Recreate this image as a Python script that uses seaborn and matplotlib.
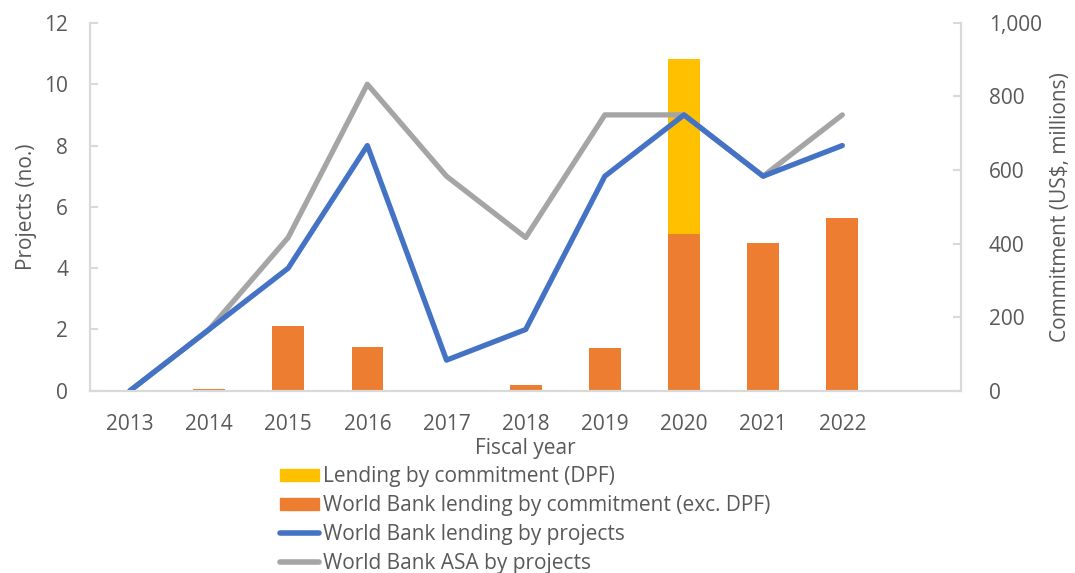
import matplotlib
matplotlib.use('Agg')
import matplotlib.pyplot as plt
import seaborn as sns
import pandas as pd
from matplotlib.patches import Patch
from matplotlib.lines import Line2D

years = ['2013', '2014', '2015', '2016', '2017', '2018', '2019', '2020', '2021', '2022']
lending_projects = [0, 2, 4, 8, 1, 2, 7, 9, 7, 8]
asa_projects = [0, 2, 5, 10, 7, 5, 9, 9, 7, 9]
commit_exc_dpf = [0, 5, 177, 120, 0, 15, 117, 427, 402, 470]
commit_dpf = [0, 0, 0, 0, 0, 0, 0, 475, 0, 0]

df = pd.DataFrame({
    'year': years,
    'lending': lending_projects,
    'asa': asa_projects,
    'exc': commit_exc_dpf,
    'dpf': commit_dpf,
})
df['total'] = df['exc'] + df['dpf']
df['pos'] = range(len(years))

sns.set_theme(style='white')
plt.rcParams['font.family'] = ['Open Sans', 'DejaVu Sans']
text_col = '#595959'
spine_col = '#D9D9D9'
orange, yellow, blue, grey = '#ED7D31', '#FFC000', '#4472C4', '#A5A5A5'
fs = 15

fig, ax = plt.subplots(figsize=(10.75, 5.73), dpi=100)
fig.subplots_adjust(left=0.084, right=0.894, top=0.96, bottom=0.318)
ax2 = ax.twinx()

# bars on the right axis (stacked: total in yellow, orange over it)
sns.barplot(data=df, x='year', y='total', color=yellow, width=0.4,
            saturation=1, ax=ax2, order=years, linewidth=0)
sns.barplot(data=df, x='year', y='exc', color=orange, width=0.4,
            saturation=1, ax=ax2, order=years, linewidth=0)

# lines on the left axis, drawn above the bars
ax.set_zorder(ax2.get_zorder() + 1)
ax.patch.set_visible(False)
sns.lineplot(data=df, x='pos', y='asa', color=grey, lw=3.8, ax=ax,
             solid_capstyle='round', solid_joinstyle='round')
sns.lineplot(data=df, x='pos', y='lending', color=blue, lw=3.8, ax=ax,
             solid_capstyle='round', solid_joinstyle='round')

for a in (ax, ax2):
    a.set_xlim(-0.5, 10.5)
    for s in a.spines.values():
        s.set_color(spine_col)
        s.set_linewidth(1.5)
    a.spines['top'].set_visible(False)

ax.set_ylim(0, 12)
ax.set_yticks(range(0, 13, 2))
ax2.set_ylim(0, 1000)
ax2.set_yticks(range(0, 1001, 200))
ax2.set_yticklabels([f'{v:,}' for v in range(0, 1001, 200)])

ax.set_xticks(range(len(years)))
ax.set_xticklabels(years)
ax.tick_params(axis='x', length=0, pad=17, labelsize=fs, labelcolor=text_col)
ax.tick_params(axis='y', direction='in', length=6, width=1.5, color=spine_col,
               pad=16, labelsize=fs, labelcolor=text_col, left=True)
ax2.tick_params(axis='y', direction='in', length=6, width=1.5, color=spine_col,
                pad=20, labelsize=fs, labelcolor=text_col, right=True)
ax2.set_xlabel('')
ax.set_xlabel('Fiscal year', fontsize=fs, color=text_col, labelpad=2)
ax.set_ylabel('Projects (no.)', fontsize=fs, color=text_col, labelpad=5)
ax2.set_ylabel('Commitment (US$, millions)', fontsize=fs, color=text_col, labelpad=6)

handles = [
    Patch(color=yellow, label='Lending by commitment (DPF)'),
    Patch(color=orange, label='World Bank lending by commitment (exc. DPF)'),
    Line2D([], [], color=blue, lw=4, label='World Bank lending by projects'),
    Line2D([], [], color=grey, lw=4, label='World Bank ASA by projects'),
]
leg = fig.legend(handles=handles, loc='upper left', bbox_to_anchor=(0.26, 0.186),
                 frameon=False, fontsize=fs, handlelength=1.9, handleheight=0.55,
                 handletextpad=0.2, labelspacing=0.38, borderpad=0, borderaxespad=0)
for t in leg.get_texts():
    t.set_color(text_col)

fig.savefig('out.png', dpi=100)
